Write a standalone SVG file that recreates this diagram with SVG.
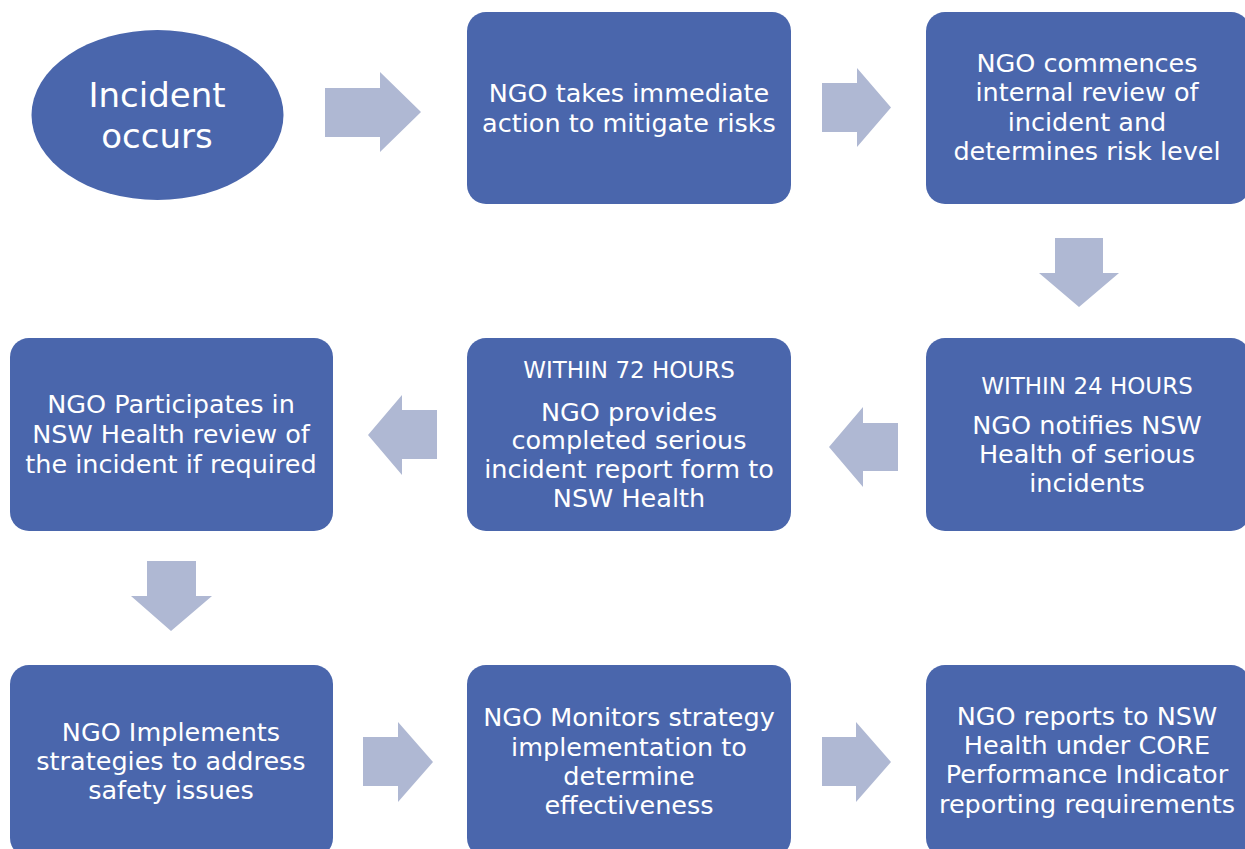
<svg xmlns="http://www.w3.org/2000/svg" width="1245" height="849" viewBox="0 0 1245 849">
<style>
.node{fill:#4A66AC;}
.arrow{fill:#AFB8D3;}
text{font-family:"DejaVu Sans","Liberation Sans",sans-serif;fill:#FFFFFF;text-anchor:middle;}
.t{font-size:25.5px;}
.h{font-size:23px;}
.big{font-size:34px;}
</style>
<rect width="1245" height="849" fill="#FFFFFF"/>
<g id="connectors">
<polygon class="arrow" points="325,88 380,88 380,72 421,112 380,152 380,137 325,137"/>
<polygon class="arrow" points="822,83 857,83 857,68 891,107.5 857,147 857,132 822,132"/>
<polygon class="arrow" points="1055,238 1103,238 1103,273 1119,273 1079,307 1039,273 1055,273"/>
<polygon class="arrow" points="898,423 863,423 863,407 829,447 863,487 863,471 898,471"/>
<polygon class="arrow" points="437,410 402,410 402,395 368,435 402,475 402,459 437,459"/>
<polygon class="arrow" points="147,561 196,561 196,596 212,596 171,631 131,596 147,596"/>
<polygon class="arrow" points="363,737 398,737 398,722 433,762 398,802 398,786 363,786"/>
<polygon class="arrow" points="822,737 856,737 856,722 891,762 856,802 856,786 822,786"/>
</g>
<g id="incident">
<ellipse class="node" cx="157.5" cy="115" rx="126" ry="85"/>
<text class="big" x="157" y="107">Incident</text>
<text class="big" x="157" y="148">occurs</text>
</g>
<g id="mitigate">
<rect class="node" x="467" y="12" width="324" height="192" rx="19"/>
<text class="t" x="629" y="101.5">NGO takes immediate</text>
<text class="t" x="629" y="131.5">action to mitigate risks</text>
</g>
<g id="review">
<rect class="node" x="926" y="12" width="324" height="192" rx="19"/>
<text class="t" x="1087" y="72">NGO commences</text>
<text class="t" x="1087" y="101">internal review of</text>
<text class="t" x="1087" y="130.5">incident and</text>
<text class="t" x="1087" y="160">determines risk level</text>
</g>
<g id="notify24">
<rect class="node" x="926" y="338" width="324" height="193" rx="19"/>
<text class="h" x="1087" y="394">WITHIN 24 HOURS</text>
<text class="t" x="1087" y="434">NGO notifies NSW</text>
<text class="t" x="1087" y="463">Health of serious</text>
<text class="t" x="1087" y="492">incidents</text>
</g>
<g id="report72">
<rect class="node" x="467" y="338" width="324" height="193" rx="19"/>
<text class="h" x="629" y="378">WITHIN 72 HOURS</text>
<text class="t" x="629" y="420.5">NGO provides</text>
<text class="t" x="629" y="449">completed serious</text>
<text class="t" x="629" y="478">incident report form to</text>
<text class="t" x="629" y="507">NSW Health</text>
</g>
<g id="participate">
<rect class="node" x="10" y="338" width="323" height="193" rx="19"/>
<text class="t" x="171" y="413">NGO Participates in</text>
<text class="t" x="171" y="443">NSW Health review of</text>
<text class="t" x="171" y="473">the incident if required</text>
</g>
<g id="implement">
<rect class="node" x="10" y="665" width="323" height="192" rx="19"/>
<text class="t" x="171" y="741">NGO Implements</text>
<text class="t" x="171" y="770">strategies to address</text>
<text class="t" x="171" y="799">safety issues</text>
</g>
<g id="monitor">
<rect class="node" x="467" y="665" width="324" height="192" rx="19"/>
<text class="t" x="629" y="726">NGO Monitors strategy</text>
<text class="t" x="629" y="756">implementation to</text>
<text class="t" x="629" y="785">determine</text>
<text class="t" x="629" y="814">effectiveness</text>
</g>
<g id="core">
<rect class="node" x="926" y="665" width="324" height="192" rx="19"/>
<text class="t" x="1087" y="725">NGO reports to NSW</text>
<text class="t" x="1087" y="754">Health under CORE</text>
<text class="t" x="1087" y="783">Performance Indicator</text>
<text class="t" x="1087" y="813">reporting requirements</text>
</g>
</svg>
